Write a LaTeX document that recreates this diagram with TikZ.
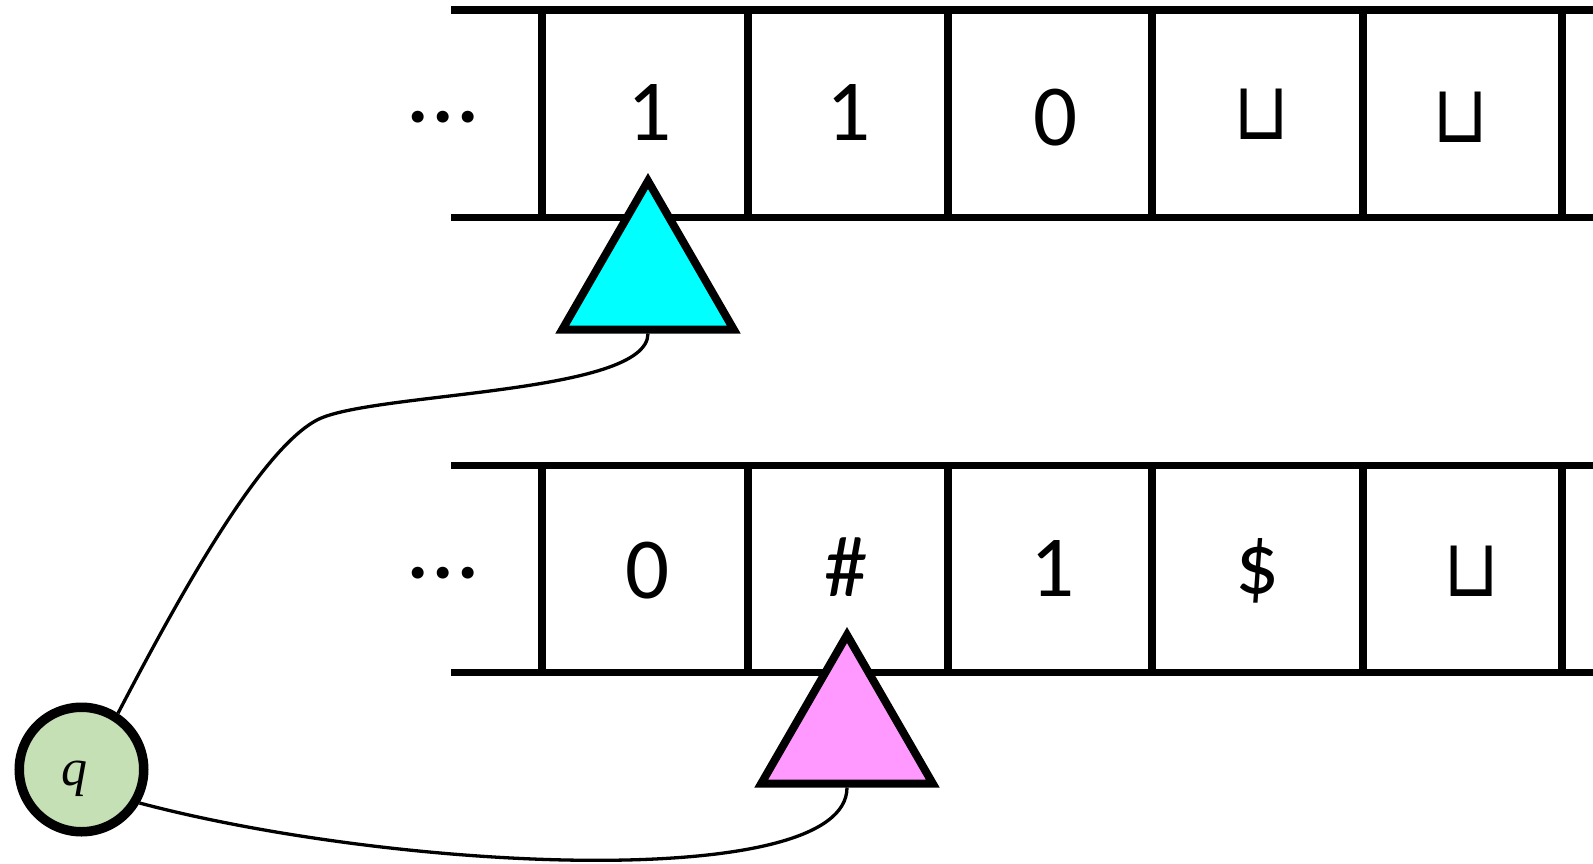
\documentclass[tikz,border=0pt]{standalone}
\usepackage{fontspec}
\setmainfont{Carlito}
\newfontfamily\symfont{DejaVu Sans}
\newfontfamily\statefont{Liberation Serif}
\usetikzlibrary{shapes.geometric}
\definecolor{headcyan}{HTML}{00FFFF}
\definecolor{headpink}{HTML}{FF99FF}
\definecolor{stategreen}{HTML}{C5E0B4}
\newcommand{\blankmark}{\scalebox{1}[1.12]{⊔}}
\newcommand{\tapedots}{\makebox[25pt]{.}\makebox[25pt]{.}\makebox[25pt]{.}}
\begin{document}
\begin{tikzpicture}[x=1pt,y=-1pt,line join=miter,
  tapeline/.style={line width=7.5pt},
  cellsym/.style={font=\fontsize{87}{87}\selectfont,inner sep=0pt},
  blanksym/.style={font=\symfont\fontsize{72}{72}\selectfont,inner sep=0pt},
  dotsym/.style={font=\bfseries\fontsize{80}{80}\selectfont,inner sep=0pt},
  head/.style={regular polygon,regular polygon sides=3,minimum size=198pt,
    inner sep=0pt,line width=8pt,draw=black},
  wire/.style={line width=3.3pt}]
\useasboundingbox (0,0) rectangle (1593,864);

% two tapes: horizontal rails and cell walls
\foreach \t in {0,455.3}{
  \begin{scope}[shift={(0,\t)}]
    \draw[tapeline] (451,10) -- (1593,10);
    \draw[tapeline] (451,217.3) -- (1593,217.3);
    \foreach \x in {542,748,948,1152,1363,1562}
      \draw[tapeline] (\x,8) -- (\x,219.5);
  \end{scope}
}

% upper tape contents
\node[dotsym]   (dotsA) at (443,117)    {\tapedots};
\node[cellsym]  (a1)    at (650,112.5)  {1};
\node[cellsym]  (a2)    at (849,112.5)  {1};
\node[cellsym]  (a3)    at (1056,117.7) {0};
\node[blanksym] (a4)    at (1261.7,114.7) {\blankmark};
\node[blanksym] (a5)    at (1460.5,117.5) {\blankmark};

% lower tape contents
\node[dotsym]   (dotsB) at (443,573)    {\tapedots};
\node[cellsym]  (b1)    at (647.5,571)  {0};
\node[cellsym]  (b2)    at (846,567.5)  {\#};
\node[cellsym]  (b3)    at (1053,568.7) {1};
\node[cellsym]  (b4)    at (1258,571)   {\$};
\node[blanksym] (b5)    at (1472,571)   {\blankmark};

% read/write heads
\node[head,fill=headcyan] (headA) at (648,280) {};
\node[head,fill=headpink] (headB) at (847,734) {};

% control state
\node[circle,draw=black,line width=9.5pt,fill=stategreen,minimum size=124.5pt,
  inner sep=0pt] (state) at (81.5,769.5) {};
\node[font=\statefont\itshape\fontsize{52}{52}\selectfont,inner sep=0pt]
  (qname) at (74.5,779) {q};

% wires from the state to the heads
\coordinate (bendA) at (317,420);
\draw[wire] (state.57) .. controls (190,575) and (264,448) .. (bendA)
  .. controls (370,392) and (648,395) .. (headA.south);
\draw[wire] (state.-30) .. controls (400,872) and (847,892) .. (headB.south);
\end{tikzpicture}
\end{document}
